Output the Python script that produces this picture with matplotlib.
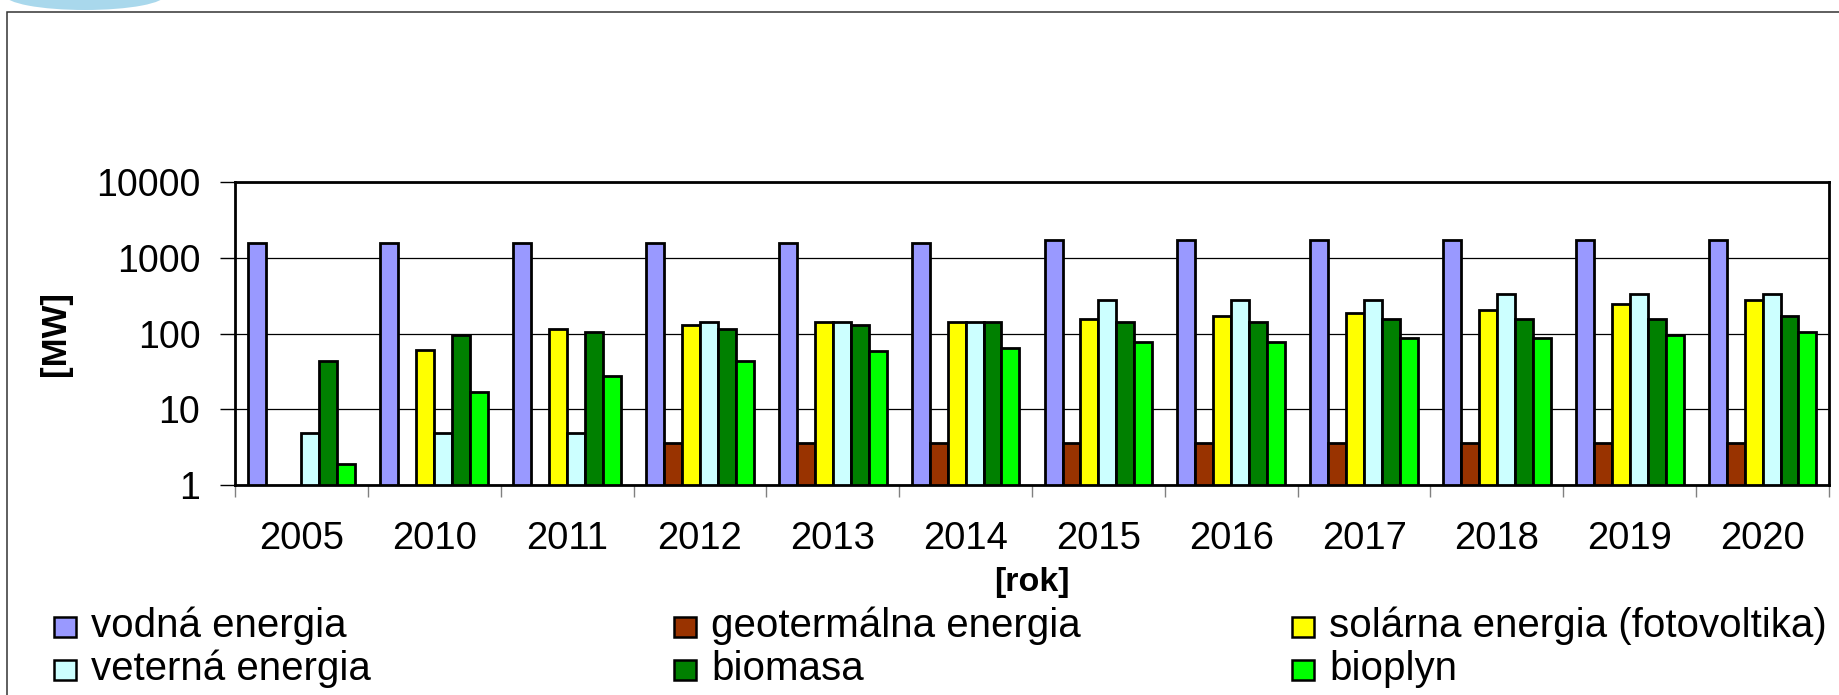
import numpy as np
import matplotlib.pyplot as plt
import matplotlib.ticker as mticker
from matplotlib.patches import Rectangle, Ellipse

plt.rcParams['font.family'] = ['Liberation Sans', 'DejaVu Sans']

# data (MW, log scale)
years = ['2005', '2010', '2011', '2012', '2013', '2014',
         '2015', '2016', '2017', '2018', '2019', '2020']

vodna = [1550, 1550, 1550, 1550, 1550, 1550, 1730, 1730, 1730, 1730, 1730, 1730]
geotermalna = [np.nan, np.nan, np.nan, 3.6, 3.6, 3.6, 3.6, 3.6, 3.6, 3.6, 3.6, 3.6]
solarna = [np.nan, 60, 116, 129, 141, 141, 157, 171, 187, 205, 248, 275]
veterna = [4.8, 4.8, 4.8, 141, 141, 141, 275, 275, 275, 334, 334, 334]
biomasa = [44, 96, 105, 116, 129, 141, 141, 141, 157, 157, 157, 169]
bioplyn = [1.9, 17, 27.5, 44, 59, 65, 78, 78, 86, 86, 96, 105]

series = [vodna, geotermalna, solarna, veterna, biomasa, bioplyn]
labels = ['vodná energia', 'geotermálna energia', 'solárna energia (fotovoltika)',
          'veterná energia', 'biomasa', 'bioplyn']
colors = ['#9999FF', '#993300', '#FFFF00', '#CCFFFF', '#008000', '#00FF00']

W, H = 1840, 695
fig = plt.figure(figsize=(W / 100, H / 100), dpi=100)

# slide decoration and outer frame
fig.add_artist(Ellipse((85 / W, 1 + 5 / H), 160 / W, 30 / H, transform=fig.transFigure,
                       fc='#A9D8EC', ec='none'))
fig.add_artist(Rectangle((7 / W, -0.1), 1.2, 1.1 - 12 / H, transform=fig.transFigure,
                         fill=False, ec='#333333', lw=1.1))

ax = fig.add_axes([235 / W, 1 - 485 / H, (1829 - 235) / W, (485 - 182) / H])

bar_w = 0.135
x0 = np.arange(len(years)) + 0.095
for k, vals in enumerate(series):
    ax.bar(x0 + k * bar_w, vals, width=bar_w, align='edge', color=colors[k],
           edgecolor='black', linewidth=2.0, label=labels[k], zorder=2)

ax.set_yscale('log')
ax.set_ylim(1, 10000)
ax.set_xlim(0, len(years))
ax.yaxis.set_major_locator(mticker.FixedLocator([1, 10, 100, 1000, 10000]))
ax.yaxis.set_major_formatter(mticker.FuncFormatter(lambda v, p: f'{v:g}'))
ax.yaxis.set_minor_locator(mticker.NullLocator())
ax.tick_params(axis='y', which='major', labelsize=27, length=11, width=1,
               pad=14, color='black')

ax.set_xticks(np.arange(len(years) + 1))
ax.set_xticklabels([])
ax.set_xticks(np.arange(len(years)) + 0.5, minor=True)
ax.set_xticklabels(years, minor=True)
ax.tick_params(axis='x', which='major', length=8.6, width=1, color='#808080')
ax.tick_params(axis='x', which='minor', length=0, labelsize=27.5, pad=26)

ax.grid(axis='y', which='major', color='black', lw=0.9)
ax.set_axisbelow(True)
for s in ax.spines.values():
    s.set_linewidth(2.0)
    s.set_color('black')

ax.set_xlabel('[rok]', fontsize=24.5, fontweight='bold')
ax.xaxis.set_label_coords(0.5, -0.27)
ax.set_ylabel('[MW]', fontsize=25, fontweight='bold')
ax.yaxis.set_label_coords(-0.102, 0.5)

# legend: 3 columns x 2 rows, drawn by hand to match the spacing
col_x = [54, 674, 1292]
row_base = [637, 680]
for i, lab in enumerate(labels):
    cx, by = col_x[i % 3], row_base[i // 3]
    fig.add_artist(Rectangle((cx / W, 1 - by / H), 22 / W, 20 / H,
                             transform=fig.transFigure, fc=colors[i], ec='black', lw=1.8))
    fig.text((cx + 37) / W, 1 - by / H, lab, fontsize=29, va='baseline', ha='left')

fig.savefig('out.png', dpi=100)
